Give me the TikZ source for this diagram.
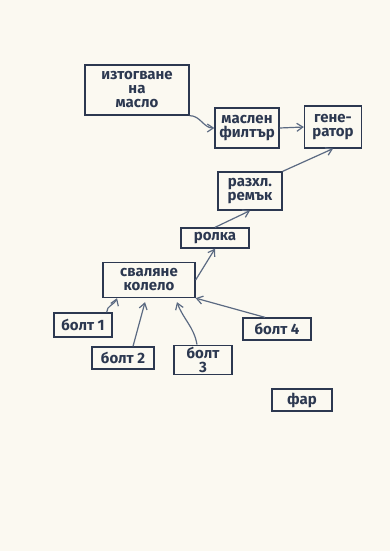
\documentclass[tikz,border=0pt]{standalone}
\usepackage{fontspec}
\setmainfont{Fira Sans}
\usetikzlibrary{arrows.meta}
\definecolor{paper}{HTML}{FBF9F1}
\definecolor{ink}{HTML}{2C3850}
\definecolor{ink2}{HTML}{5B6A82}
\tikzset{
  box/.style={draw=ink, line width=1.3pt, text=ink, align=center, inner sep=2pt, font=\fontsize{15}{14}\selectfont\bfseries},
  conn/.style={draw=ink2, line width=1.2pt, -{Straight Barb[length=6pt,width=8pt]}},
}
\begin{document}
\begin{tikzpicture}[x=1pt,y=-1pt]
\fill[paper] (0,0) rectangle (390,551);
\useasboundingbox (0,0) rectangle (390,551);
\node[box, minimum width=104pt, minimum height=50pt] (izt) at (137,90) {изтогване\\на\\масло};
\node[box, minimum width=64pt, minimum height=40pt] (filt) at (247,128) {маслен\\филтър};
\node[box, minimum width=57pt, minimum height=42pt] (gen) at (333,127) {гене-\\ратор};
\node[box, minimum width=64pt, minimum height=38pt] (remak) at (250,191) {разхл.\\ремък};
\node[box, minimum width=68pt, minimum height=20pt] (rolka) at (215,238) {ролка};
\node[box, minimum width=92pt, minimum height=35pt] (sval) at (149,280) {сваляне\\колело};
\node[box, minimum width=58pt, minimum height=24pt] (b1) at (83,325) {болт 1};
\node[box, minimum width=62pt, minimum height=22pt] (b2) at (123,358) {болт 2};
\node[box, minimum width=58pt, minimum height=26pt] (b3) at (203,360) {болт\\3};
\node[box, minimum width=68pt, minimum height=22pt] (b4) at (277,329) {болт 4};
\node[box, minimum width=60pt, minimum height=22pt] (far) at (302,400) {фар};
\draw[conn] (izt.south east) to[out=0,in=180] (filt.west);
\draw[conn] (filt.east) -- (gen.west);
\draw[conn] (remak.north east) -- (gen.south);
\draw[conn] (rolka.north) -- (remak.south);
\draw[conn] (sval.east) -- (rolka.south);
\draw[conn] ([xshift=-6pt]b1.north east) to[out=90,in=-110] ([xshift=-32pt]sval.south);
\draw[conn] ([xshift=10pt]b2.north) -- ([xshift=-4pt,yshift=-4pt]sval.south);
\draw[conn] ([xshift=-6pt]b3.north) to[out=100,in=-70] ([xshift=28pt,yshift=-4pt]sval.south);
\draw[conn] ([xshift=-12pt]b4.north) -- (sval.south east);
\end{tikzpicture}
\end{document}
